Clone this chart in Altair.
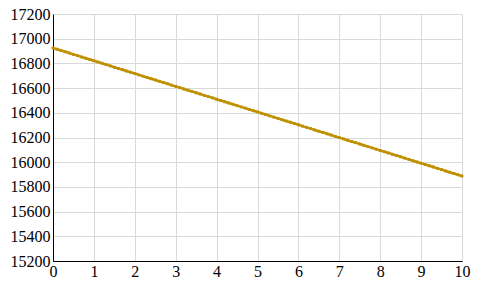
import altair as alt
import pandas as pd

x_values = [i / 10 for i in range(101)]
y_values = [
    16925, 16915, 16904, 16894, 16884, 16873, 16863, 16852, 16842, 16832,
    16821, 16811, 16801, 16790, 16780, 16769, 16759, 16749, 16738, 16728,
    16718, 16707, 16697, 16686, 16676, 16666, 16655, 16645, 16635, 16624,
    16614, 16604, 16593, 16583, 16572, 16562, 16552, 16541, 16531, 16521,
    16510, 16500, 16489, 16479, 16469, 16458, 16448, 16438, 16427, 16417,
    16407, 16396, 16386, 16375, 16365, 16355, 16344, 16334, 16324, 16313,
    16303, 16292, 16282, 16272, 16261, 16251, 16241, 16230, 16220, 16209,
    16199, 16189, 16178, 16168, 16158, 16147, 16137, 16126, 16116, 16106,
    16095, 16085, 16075, 16064, 16054, 16044, 16033, 16023, 16012, 16002,
    15992, 15981, 15971, 15961, 15950, 15940, 15929, 15919, 15909, 15898,
    15888,
]
x_ticks = list(range(0, 11))
y_ticks = list(range(15200, 17201, 200))

df = pd.DataFrame({"x": x_values, "y": y_values})

color = "#bf9000"
font = "'Liberation Serif', 'DejaVu Serif', serif"

chart = (
    alt.Chart(df)
    .mark_line(
        color=color,
        strokeWidth=2.5,
        point=alt.OverlayMarkDef(shape="square", size=8, filled=True, color=color),
    )
    .encode(
        x=alt.X(
            "x:Q",
            scale=alt.Scale(domain=[0, 10], nice=False),
            axis=alt.Axis(values=x_ticks, title=None, format="d", labelFlush=False,
                          labelFont=font, labelFontSize=16),
        ),
        y=alt.Y(
            "y:Q",
            scale=alt.Scale(domain=[15200, 17200], nice=False, zero=False),
            axis=alt.Axis(values=y_ticks, title=None, format="d", labelFlush=False,
                          labelFont=font, labelFontSize=16),
        ),
    )
    .properties(
        width=409,
        height=247,
        autosize=alt.AutoSizeParams(type="none"),
        padding={"left": 53, "top": 14, "right": 18, "bottom": 27},
    )
    .configure(font=font)
    .configure_view(stroke=None)
    .configure_axis(
        domainColor="black",
        domainWidth=1,
        ticks=False,
        gridColor="#d9d9d9",
        gridWidth=1,
        labelColor="black",
    )
    .configure_axisY(labelPadding=3)
    .configure_axisX(labelPadding=2)
)

chart.save("out.html", embed_options={"renderer": "svg", "actions": False})
